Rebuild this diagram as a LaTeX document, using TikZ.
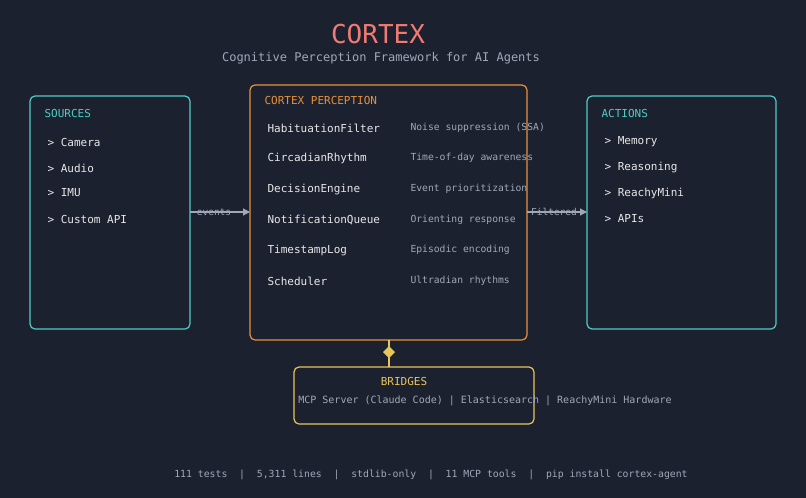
\documentclass[tikz,border=0pt]{standalone}
\usepackage{fontspec}
\setmonofont{DejaVu Sans Mono}
\setmainfont{DejaVu Sans Mono}
\usetikzlibrary{arrows.meta}
\definecolor{bg}{HTML}{1C2130}
\definecolor{teal}{HTML}{4ECDC4}
\definecolor{org}{HTML}{E8913A}
\definecolor{yel}{HTML}{E8C55A}
\definecolor{sal}{HTML}{F07B72}
\definecolor{wht}{HTML}{E8E8E8}
\definecolor{gry}{HTML}{A0A8B8}
\begin{document}
\begin{tikzpicture}[x=1pt,y=-1pt,
 box/.style={draw=#1,line width=1.2pt,rounded corners=5pt},
 item/.style={anchor=west,text=wht,font=\fontsize{11}{13}\selectfont},
 desc/.style={anchor=west,text=gry,font=\fontsize{9.7}{11}\selectfont},
 hdr/.style={anchor=west,font=\fontsize{11}{13}\selectfont},
 arr/.style={draw=gry,line width=1.2pt,-{Triangle[length=7pt,width=7pt]}},
 lbl/.style={text=gry,font=\fontsize{9.5}{11}\selectfont}]
\fill[bg] (0,0) rectangle (806,498);
\useasboundingbox (0,0) rectangle (806,498);
\node[text=sal,font=\fontsize{26}{30}\selectfont] (title) at (378,34) {CORTEX};
\node[text=gry,font=\fontsize{12}{14}\selectfont] (sub) at (381,58) {Cognitive Perception Framework for AI Agents};
\draw[box=teal] (30,96) rectangle (190,329);
\coordinate (srcR) at (190,212);
\node[hdr,text=teal] (sh) at (41,113) {SOURCES};
\node[item] (s1) at (44,142) {> Camera};
\node[item] (s2) at (44,168) {> Audio};
\node[item] (s3) at (44,193) {> IMU};
\node[item] (s4) at (44,219) {> Custom API};
\draw[box=org] (250,85) rectangle (527,340);
\coordinate (mL) at (250,212);
\coordinate (mR) at (527,212);
\coordinate (mB) at (389,340);
\node[hdr,text=org] (mh) at (261,100) {CORTEX PERCEPTION};
\foreach \n/\a/\b/\y in {m1/HabituationFilter/Noise suppression (SSA)/128,m2/CircadianRhythm/Time-of-day awareness/158,m3/DecisionEngine/Event prioritization/189,m4/NotificationQueue/Orienting response/220,m5/TimestampLog/Episodic encoding/250,m6/Scheduler/Ultradian rhythms/281}{
 \node[item] (\n) at (264,\y) {\a};
 \node[desc] (\n d) at (407,\y) {\b};
}
\draw[box=teal] (587,96) rectangle (776,329);
\coordinate (actL) at (587,212);
\node[hdr,text=teal] (ah) at (598,113) {ACTIONS};
\node[item] (a1) at (601,142) {> Memory};
\node[item] (a2) at (601,168) {> Reasoning};
\node[item] (a3) at (601,193) {> ReachyMini};
\node[item] (a4) at (601,219) {> APIs};
\draw[arr] (srcR) -- node[lbl,pos=0.4] {events} (mL);
\draw[arr] (mR) -- node[lbl,pos=0.45] {Filtered} (actL);
\draw[box=yel] (294,367) rectangle (534,424);
\coordinate (bT) at (389,367);
\draw[yel,line width=1.2pt] (mB) -- (bT);
\fill[yel] (389,346) -- (395,352) -- (389,358) -- (383,352) -- cycle;
\node[text=yel,font=\fontsize{11}{13}\selectfont] (bh) at (404,381) {BRIDGES};
\node[lbl,font=\fontsize{10}{12}\selectfont] (bt) at (485,401) {MCP Server (Claude Code) | Elasticsearch | ReachyMini Hardware};
\node[lbl,font=\fontsize{9.8}{12}\selectfont] (ft) at (431,475) {111 tests \ | \ 5,311 lines \ | \ stdlib-only \ | \ 11 MCP tools \ | \ pip install cortex-agent};
\end{tikzpicture}
\end{document}
